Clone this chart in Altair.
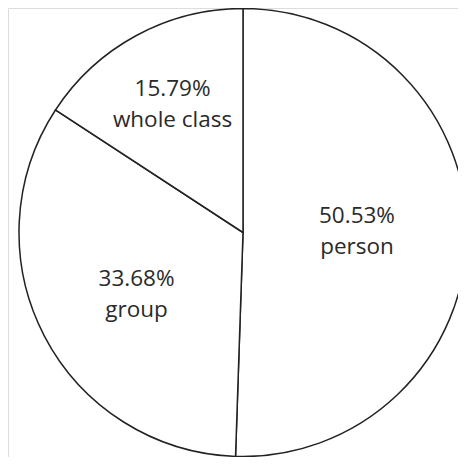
import altair as alt
import pandas as pd

categories = ["person", "group", "whole class"]
values = [50.53, 33.68, 15.79]
order = [1, 2, 3]

df = pd.DataFrame({"category": categories, "value": values, "order": order})

W, H = 450, 449
CX, CY, R = 235, 224.5, 224

base = alt.Chart(df).transform_window(
    cum="sum(value)", sort=[alt.SortField("order")]
).transform_calculate(
    mid="datum.cum - datum.value / 2",
    label="format(datum.value, '.2f') + '%' + '\\n' + datum.category",
)

theta_scale = alt.Scale(domain=[0, 100], range=[0, 6.283185307179586])

arcs = alt.Chart(df).mark_arc(
    outerRadius=R, fill="white", stroke="#222222", strokeWidth=1.5
).encode(
    theta=alt.Theta("value:Q", stack=True, scale=theta_scale),
    order=alt.Order("order:Q"),
    x=alt.value(CX),
    y=alt.value(CY),
)

def label_layer(cat, radius, dy):
    return base.transform_filter(alt.datum.category == cat).mark_text(
        radius=radius, font="Open Sans", fontSize=22.5, color="#2a2a2a",
        lineBreak="\n", lineHeight=31, align="center", baseline="middle",
        dy=dy
    ).encode(
        theta=alt.Theta("mid:Q", scale=theta_scale),
        text="label:N",
        x=alt.value(CX),
        y=alt.value(CY),
    )

chart = alt.layer(
    arcs,
    label_layer("person", 114, -18),
    label_layer("group", 120, -9),
    label_layer("whole class", 148, -13),
).properties(
    width=W, height=H, padding=0, autosize=alt.AutoSizeParams(type="none")
).configure_view(stroke=None).configure(background="white")

chart.save("out.html", embed_options={"renderer": "svg", "actions": False})
